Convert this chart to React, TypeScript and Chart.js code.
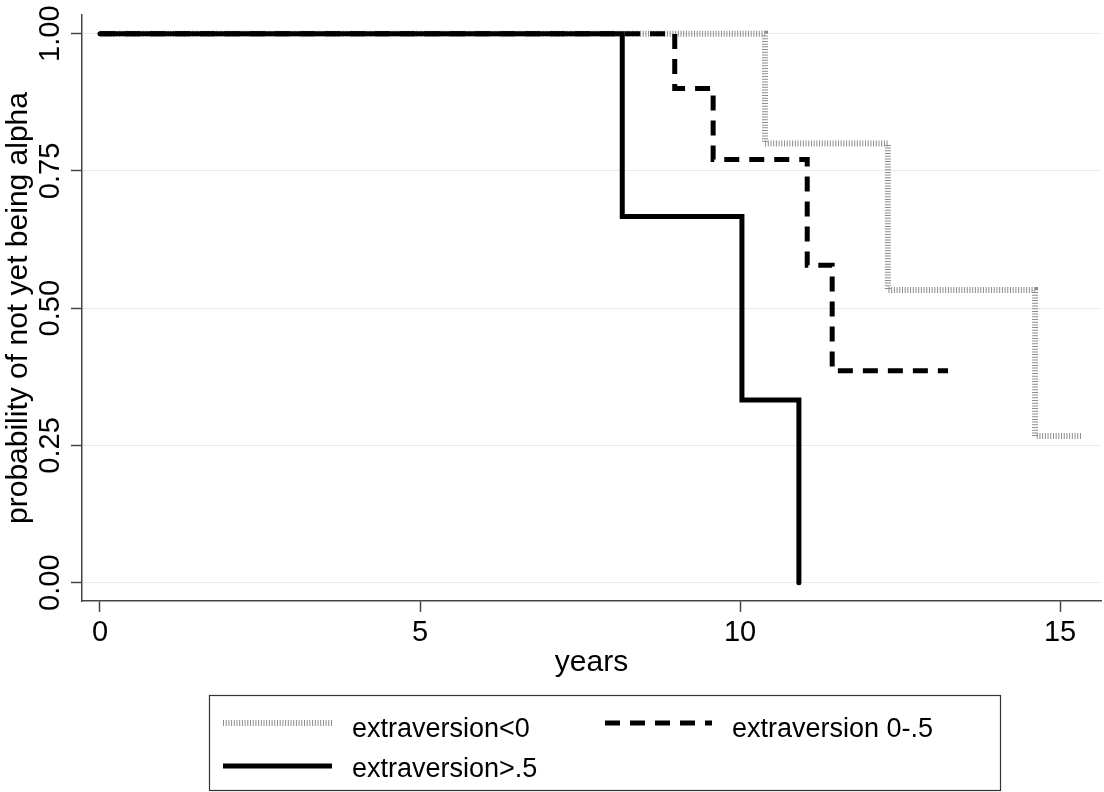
import React, { useEffect, useRef } from 'react';
import { Chart, registerables } from 'chart.js';

Chart.register(...registerables);

const FONT = '"Liberation Sans", Arial, Helvetica, sans-serif';

const seriesLabels = ['extraversion<0', 'extraversion 0-.5', 'extraversion>.5'];
const lowYears = [0, 10.39, 12.31, 14.61, 15.34];
const lowSurvival = [1, 0.8, 0.533, 0.267, 0.267];
const midYears = [0, 8.98, 9.58, 11.05, 11.44, 13.25];
const midSurvival = [1, 0.9, 0.771, 0.578, 0.386, 0.386];
const highYears = [0, 8.16, 10.03, 10.92];
const highSurvival = [1, 0.667, 0.333, 0];
const xTicks = [0, 5, 10, 15];
const yTicks = [0, 0.25, 0.5, 0.75, 1];
const xTitle = 'years';
const yTitle = 'probability of not yet being alpha';

const toPoints = (xs: number[], ys: number[]) => xs.map((x, i) => ({ x, y: ys[i] }));

const legendSlots = [
  { x1: 223, x2: 333, tx: 352, y: 723, by: 737 },
  { x1: 605, x2: 712, tx: 732, y: 723, by: 737 },
  { x1: 223, x2: 332, tx: 352, y: 766, by: 777 },
];

const boxLegend = {
  id: 'boxLegend',
  afterDraw(chart: any) {
    const ctx = chart.ctx as CanvasRenderingContext2D;
    ctx.save();
    ctx.strokeStyle = '#333';
    ctx.lineWidth = 1.2;
    ctx.setLineDash([]);
    ctx.strokeRect(209.5, 695.5, 791, 95);
    chart.data.datasets.forEach((ds: any, i: number) => {
      const s = legendSlots[i];
      if (!s) return;
      ctx.save();
      ctx.beginPath();
      ctx.strokeStyle = ds.borderColor;
      ctx.lineWidth = ds.borderWidth;
      ctx.setLineDash(ds.borderDash || []);
      ctx.lineCap = 'butt';
      ctx.moveTo(s.x1, s.y);
      ctx.lineTo(s.x2, s.y);
      ctx.stroke();
      ctx.restore();
      ctx.fillStyle = '#000';
      ctx.font = `27px ${FONT}`;
      ctx.textBaseline = 'alphabetic';
      ctx.textAlign = 'left';
      ctx.fillText(ds.label, s.tx, s.by);
    });
    ctx.restore();
  },
};

export default function App() {
  const canvasRef = useRef<HTMLCanvasElement | null>(null);

  useEffect(() => {
    if (!canvasRef.current) return;
    const chart = new Chart(canvasRef.current, {
      type: 'line',
      data: {
        datasets: [
          {
            label: seriesLabels[0],
            data: toPoints(lowYears, lowSurvival),
            borderColor: '#8c8c8c',
            borderWidth: 6,
            borderDash: [1, 1.7],
            stepped: 'before',
            pointRadius: 0,
            fill: false,
            order: 3,
          },
          {
            label: seriesLabels[1],
            data: toPoints(midYears, midSurvival),
            borderColor: '#000',
            borderWidth: 5,
            borderDash: [15, 10],
            stepped: 'before',
            pointRadius: 0,
            fill: false,
            order: 2,
          },
          {
            label: seriesLabels[2],
            data: toPoints(highYears, highSurvival),
            borderColor: '#000',
            borderWidth: 5,
            borderCapStyle: 'round',
            stepped: 'before',
            pointRadius: 0,
            fill: false,
            order: 1,
          },
        ] as any,
      },
      options: {
        animation: false,
        responsive: true,
        maintainAspectRatio: false,
        layout: { padding: { left: 0, top: 15, right: 3, bottom: 101 } },
        plugins: {
          legend: { display: false },
          tooltip: { enabled: false },
        },
        scales: {
          x: {
            type: 'linear',
            min: -0.281,
            max: 15.64,
            afterBuildTicks: (s: any) => {
              s.ticks = xTicks.map((v) => ({ value: v }));
            },
            afterFit: (s: any) => {
              s.height = 90;
            },
            grid: {
              display: true,
              drawOnChartArea: false,
              drawTicks: true,
              tickLength: 11,
              tickColor: '#444',
              tickWidth: 1.5,
            },
            border: { display: true, color: '#444', width: 1.5 },
            ticks: {
              color: '#000',
              font: { family: FONT, size: 29 },
              padding: 4,
              maxRotation: 0,
              minRotation: 0,
              autoSkip: false,
              callback: (v: any) => String(v),
            },
            title: {
              display: true,
              text: xTitle,
              color: '#000',
              font: { family: FONT, size: 30 },
              padding: { top: 0, bottom: 10 },
            },
          },
          y: {
            type: 'linear',
            min: -0.0333,
            max: 1.034,
            afterBuildTicks: (s: any) => {
              s.ticks = yTicks.map((v) => ({ value: v }));
            },
            afterFit: (s: any) => {
              s.width = 82;
            },
            grid: {
              color: '#e2ecf0',
              lineWidth: 1,
              tickLength: 11,
              tickColor: '#444',
              tickWidth: 1.5,
            },
            border: { display: true, color: '#444', width: 1.5 },
            ticks: {
              color: '#000',
              font: { family: FONT, size: 29 },
              minRotation: 90,
              maxRotation: 90,
              crossAlign: 'center',
              padding: -8,
              autoSkip: false,
              callback: (v: any) => Number(v).toFixed(2),
            },
            title: {
              display: true,
              text: yTitle,
              color: '#000',
              font: { family: FONT, size: 30 },
              padding: { top: 1, bottom: 0 },
            },
          },
        },
      } as any,
      plugins: [boxLegend],
    });
    return () => chart.destroy();
  }, []);

  return (
    <div style={{ position: 'absolute', left: 0, top: 0, width: 1104, height: 792, background: '#fff' }}>
      <canvas ref={canvasRef} />
    </div>
  );
}
